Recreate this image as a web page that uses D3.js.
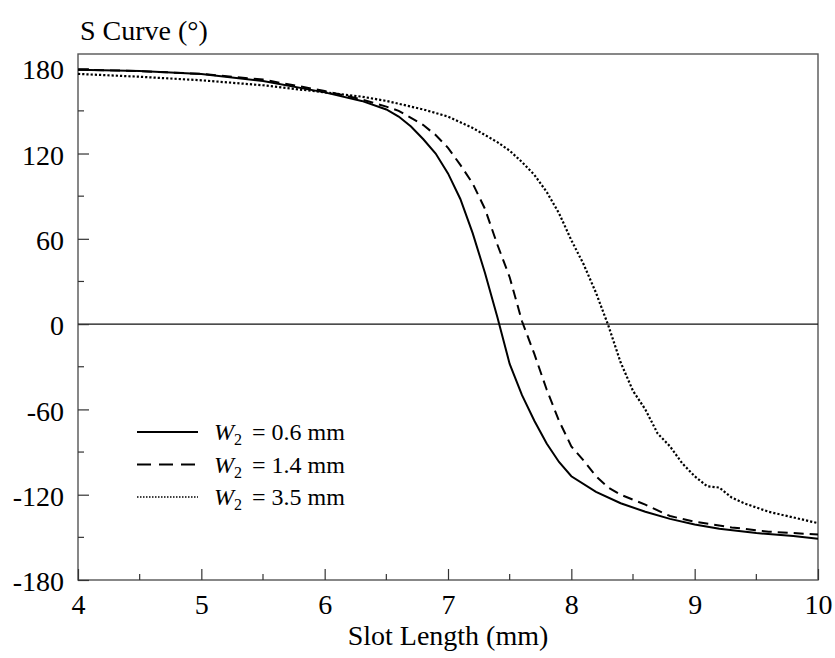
<!DOCTYPE html>
<html>
<head>
<meta charset="utf-8">
<script src="https://cdn.jsdelivr.net/npm/d3@7"></script>
<style>
  html, body { margin: 0; padding: 0; background: #fff; }
  svg text { font-family: "Liberation Serif", "Times New Roman", serif !important; fill: #000; }
</style>
</head>
<body>
<svg id="chart" width="835" height="658"></svg>
<script>
// Slot length (mm) sample points for each width
const xSolid = [4.0, 4.5, 5.0, 5.5, 6.0, 6.3, 6.5, 6.6, 6.7, 6.8, 6.9, 7.0, 7.1, 7.2, 7.3, 7.4, 7.5, 7.6, 7.7, 7.8, 7.9, 8.0, 8.2, 8.4, 8.6, 8.8, 9.0, 9.2, 9.5, 9.8, 10.0];
const ySolid = [179, 178, 176, 171, 163, 157, 151, 146, 139, 130, 120, 106, 88, 64, 36, 5, -28, -50, -68, -84, -97, -107, -118, -126, -132, -137, -141, -144, -147, -149, -151];

const xDashed = [4.0, 4.5, 5.0, 5.5, 6.0, 6.3, 6.5, 6.6, 6.7, 6.8, 6.9, 7.0, 7.1, 7.2, 7.3, 7.4, 7.5, 7.6, 7.7, 7.8, 7.9, 8.0, 8.1, 8.2, 8.3, 8.4, 8.6, 8.8, 9.0, 9.3, 9.6, 10.0];
const yDashed = [179, 178, 176, 172, 164, 158, 153, 150, 145, 140, 133, 124, 112, 99, 81, 56, 33, 2, -21, -46, -68, -86, -96, -107, -115, -120, -127, -135, -139, -143, -146, -148];

const xDotted = [4.0, 4.5, 5.0, 5.5, 6.0, 6.3, 6.5, 6.8, 7.0, 7.2, 7.4, 7.5, 7.6, 7.7, 7.8, 7.9, 8.0, 8.1, 8.2, 8.3, 8.4, 8.5, 8.6, 8.7, 8.8, 8.9, 9.0, 9.1, 9.2, 9.3, 9.4, 9.5, 9.6, 9.7, 9.8, 9.9, 10.0];
const yDotted = [176, 174, 171.5, 168, 163, 160, 157, 151, 146, 138, 128, 122, 114, 105, 93, 78, 59, 42, 22, -1, -27, -47, -60, -77, -86, -98, -107, -114, -115, -122, -126, -129, -132, -134, -136, -138, -140];

const legendLabels = ["0.6 mm", "1.4 mm", "3.5 mm"];
const xTicks = [4, 5, 6, 7, 8, 9, 10];
const yTicks = [-180, -120, -60, 0, 60, 120, 180];

const serif = "'Liberation Serif', 'Times New Roman', serif";
const svg = d3.select("#chart");
const plotL = 78, plotR = 818, plotT = 54, plotB = 580;

const x = d3.scaleLinear().domain([4, 10]).range([plotL, plotR]);
const y = d3.scaleLinear().domain([-180, 190]).range([plotB, plotT]);

// Plot frame
svg.append("rect")
  .attr("x", plotL).attr("y", plotT)
  .attr("width", plotR - plotL).attr("height", plotB - plotT)
  .attr("fill", "none").attr("stroke", "#555").attr("stroke-width", 1.4);

// Zero reference line
svg.append("line")
  .attr("x1", plotL).attr("x2", plotR)
  .attr("y1", y(0)).attr("y2", y(0))
  .attr("stroke", "#111").attr("stroke-width", 1.2);

// Inward ticks: majors from the axes, minors at the half steps
const xMinor = d3.range(4.5, 10, 1);
const yMinor = d3.range(-150, 180, 60);

const xAxis = d3.axisBottom(x).tickValues(xTicks).tickSize(-11).tickPadding(14).tickFormat(d => String(d));
const gx = svg.append("g").attr("transform", `translate(0,${plotB})`).call(xAxis);
gx.attr("font-family", null);
gx.select(".domain").remove();
gx.selectAll(".tick line").attr("stroke", "#333").attr("stroke-width", 1.2);
gx.selectAll(".tick text").attr("font-size", 28).style("font-family", serif).attr("dy", "0.7em");

svg.append("g").selectAll("line").data(xMinor).join("line")
  .attr("x1", d => x(d)).attr("x2", d => x(d))
  .attr("y1", plotB).attr("y2", plotB - 6)
  .attr("stroke", "#333").attr("stroke-width", 1.2);

const yAxis = d3.axisLeft(y).tickValues(yTicks).tickSize(-11).tickPadding(14).tickFormat(d => String(d));
const gy = svg.append("g").attr("transform", `translate(${plotL},0)`).call(yAxis);
gy.attr("font-family", null);
gy.select(".domain").remove();
gy.selectAll(".tick line").attr("stroke", "#333").attr("stroke-width", 1.2);
gy.selectAll(".tick text").attr("font-size", 28).style("font-family", serif).attr("dy", "0.38em");

svg.append("g").selectAll("line").data(yMinor).join("line")
  .attr("x1", plotL).attr("x2", plotL + 6)
  .attr("y1", d => y(d)).attr("y2", d => y(d))
  .attr("stroke", "#333").attr("stroke-width", 1.2);

// Axis titles
svg.append("text").attr("x", 80).attr("y", 40)
  .style("font-family", serif).attr("font-size", 28).text("S Curve (°)");
svg.append("text").attr("x", x(7)).attr("y", 645)
  .style("font-family", serif)
  .attr("text-anchor", "middle").attr("font-size", 28).text("Slot Length (mm)");

// Curves
const series = [
  { xs: xSolid, ys: ySolid, dash: null, width: 2 },
  { xs: xDashed, ys: yDashed, dash: "10,6", width: 2 },
  { xs: xDotted, ys: yDotted, dash: "2.2,2", width: 2.2 }
];
const line = d3.line().x(d => x(d[0])).y(d => y(d[1]));

svg.append("g").selectAll("path").data(series).join("path")
  .attr("d", s => line(s.xs.map((v, i) => [v, s.ys[i]])))
  .attr("fill", "none")
  .attr("stroke", "#000")
  .attr("stroke-width", s => s.width)
  .attr("stroke-dasharray", s => s.dash);

// Legend
const legendStyles = [
  { dash: null, width: 2 },
  { dash: "14,8", width: 2 },
  { dash: "1.5,1.5", width: 1.6 }
];
const lg = svg.append("g");
legendLabels.forEach((lab, i) => {
  const ly = 432 + i * 32.5;
  lg.append("line")
    .attr("x1", 137).attr("x2", 198)
    .attr("y1", ly).attr("y2", ly)
    .attr("stroke", "#000")
    .attr("stroke-width", legendStyles[i].width)
    .attr("stroke-dasharray", legendStyles[i].dash);
  const t = lg.append("text").attr("x", 214).attr("y", ly + 8)
    .style("font-family", serif).attr("font-size", 24);
  t.append("tspan").attr("font-style", "italic").text("W");
  t.append("tspan").attr("font-size", 16).attr("dy", 5).text("2");
  t.append("tspan").attr("dy", -5).attr("dx", 10).text("= " + lab);
});
</script>
</body>
</html>
